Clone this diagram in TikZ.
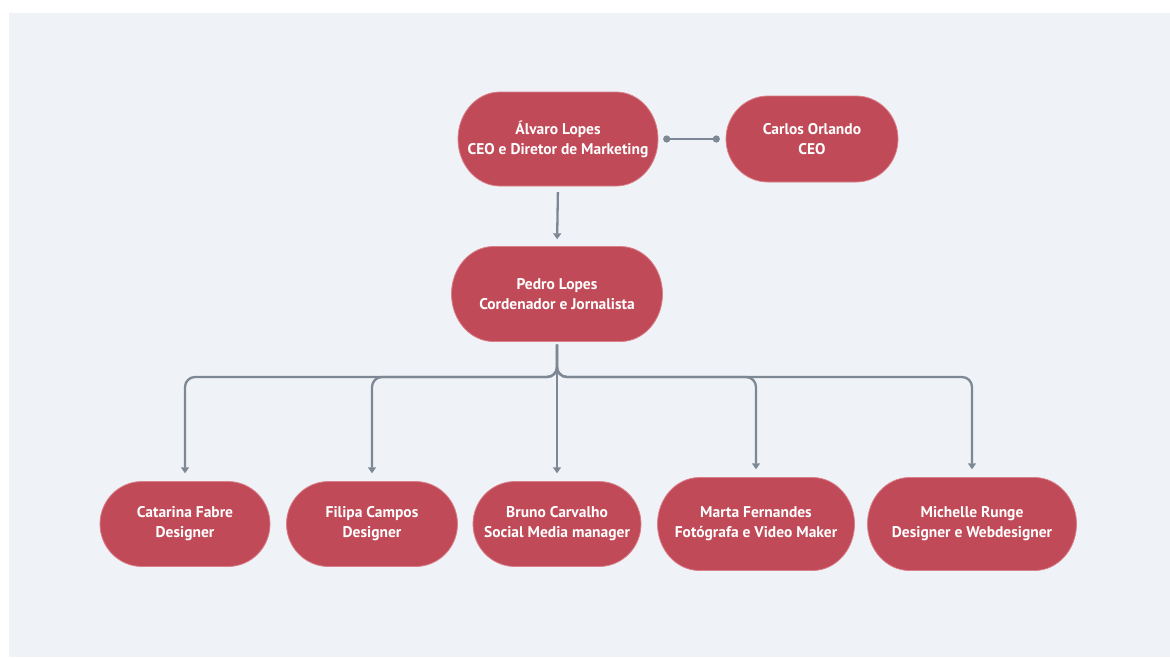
\documentclass[tikz,border=0pt]{standalone}
\usepackage{fontspec}
\setmainfont{PT Sans}
\usetikzlibrary{arrows.meta}
\definecolor{pagebg}{RGB}{239,243,247}
\definecolor{boxred}{RGB}{192,74,87}
\definecolor{boxedge}{RGB}{218,128,138}
\definecolor{linkgray}{RGB}{125,136,148}
\tikzset{
  x=1pt, y=-1pt,
  persontext/.style={text=white, font=\bfseries\fontsize{15.5}{20}\selectfont,
    align=center, inner sep=0pt},
  personbox/.style={fill=boxred, draw=boxedge, line width=0.8pt},
  link/.style={draw=linkgray, line width=2.3pt},
  down/.style={link, -{Triangle[length=6pt,width=8pt]}, rounded corners=10pt},
}
% \person{name}{x}{y}{width}{height}{text}: pill with half-elliptic ends
\newcommand{\person}[6]{%
  \def\rx{42}%
  \path[personbox] (#2-#4/2+\rx, #3-#5/2) -- (#2+#4/2-\rx, #3-#5/2)
    arc[start angle=90, end angle=-90, x radius=\rx pt, y radius=#5/2 pt]
    -- (#2-#4/2+\rx, #3+#5/2)
    arc[start angle=270, end angle=90, x radius=\rx pt, y radius=#5/2 pt] -- cycle;
  \node[persontext, minimum width=#4pt, minimum height=#5pt] (#1) at (#2,#3) {#6};%
}
\begin{document}
\begin{tikzpicture}
  \useasboundingbox (0,0) rectangle (1170,657);
  \fill[white] (0,0) rectangle (1170,657);
  \fill[pagebg] (9,13) rectangle (1170,657);

  % top level
  \person{alvaro}{558}{139}{200}{94}{Álvaro Lopes\\CEO e Diretor de Marketing}
  \person{carlos}{812}{139}{172}{86}{Carlos Orlando\\CEO}

  % coordinator
  \person{pedro}{557}{294}{211}{95}{Pedro Lopes\\Cordenador e Jornalista}

  % team
  \person{catarina}{185}{524}{170}{85}{Catarina Fabre\\Designer}
  \person{filipa}{372}{524}{171}{85}{Filipa Campos\\Designer}
  \person{bruno}{557}{524}{168}{85}{Bruno Carvalho\\Social Media manager}
  \person{marta}{756}{524}{197}{93}{Marta Fernandes\\Fotógrafa e Video Maker}
  \person{michelle}{972}{524}{209}{93}{Michelle Runge\\Designer e Webdesigner}

  % partner link
  \draw[link, {Circle[length=7pt]}-{Circle[length=7pt]}, shorten <=5pt, shorten >=6pt]
    (alvaro.east) -- (carlos.west);

  % reporting lines
  \draw[down, shorten <=6pt, shorten >=7pt] (alvaro.south) -- (pedro.north);
  \coordinate (bus) at (557,377);
  \foreach \child in {catarina, filipa, marta, michelle}
    \draw[down, shorten <=3pt, shorten >=8pt] (pedro.south) -- (bus) -| (\child.north);
  \draw[down, shorten <=3pt, shorten >=8pt] (pedro.south) -- (bruno.north);
\end{tikzpicture}
\end{document}
